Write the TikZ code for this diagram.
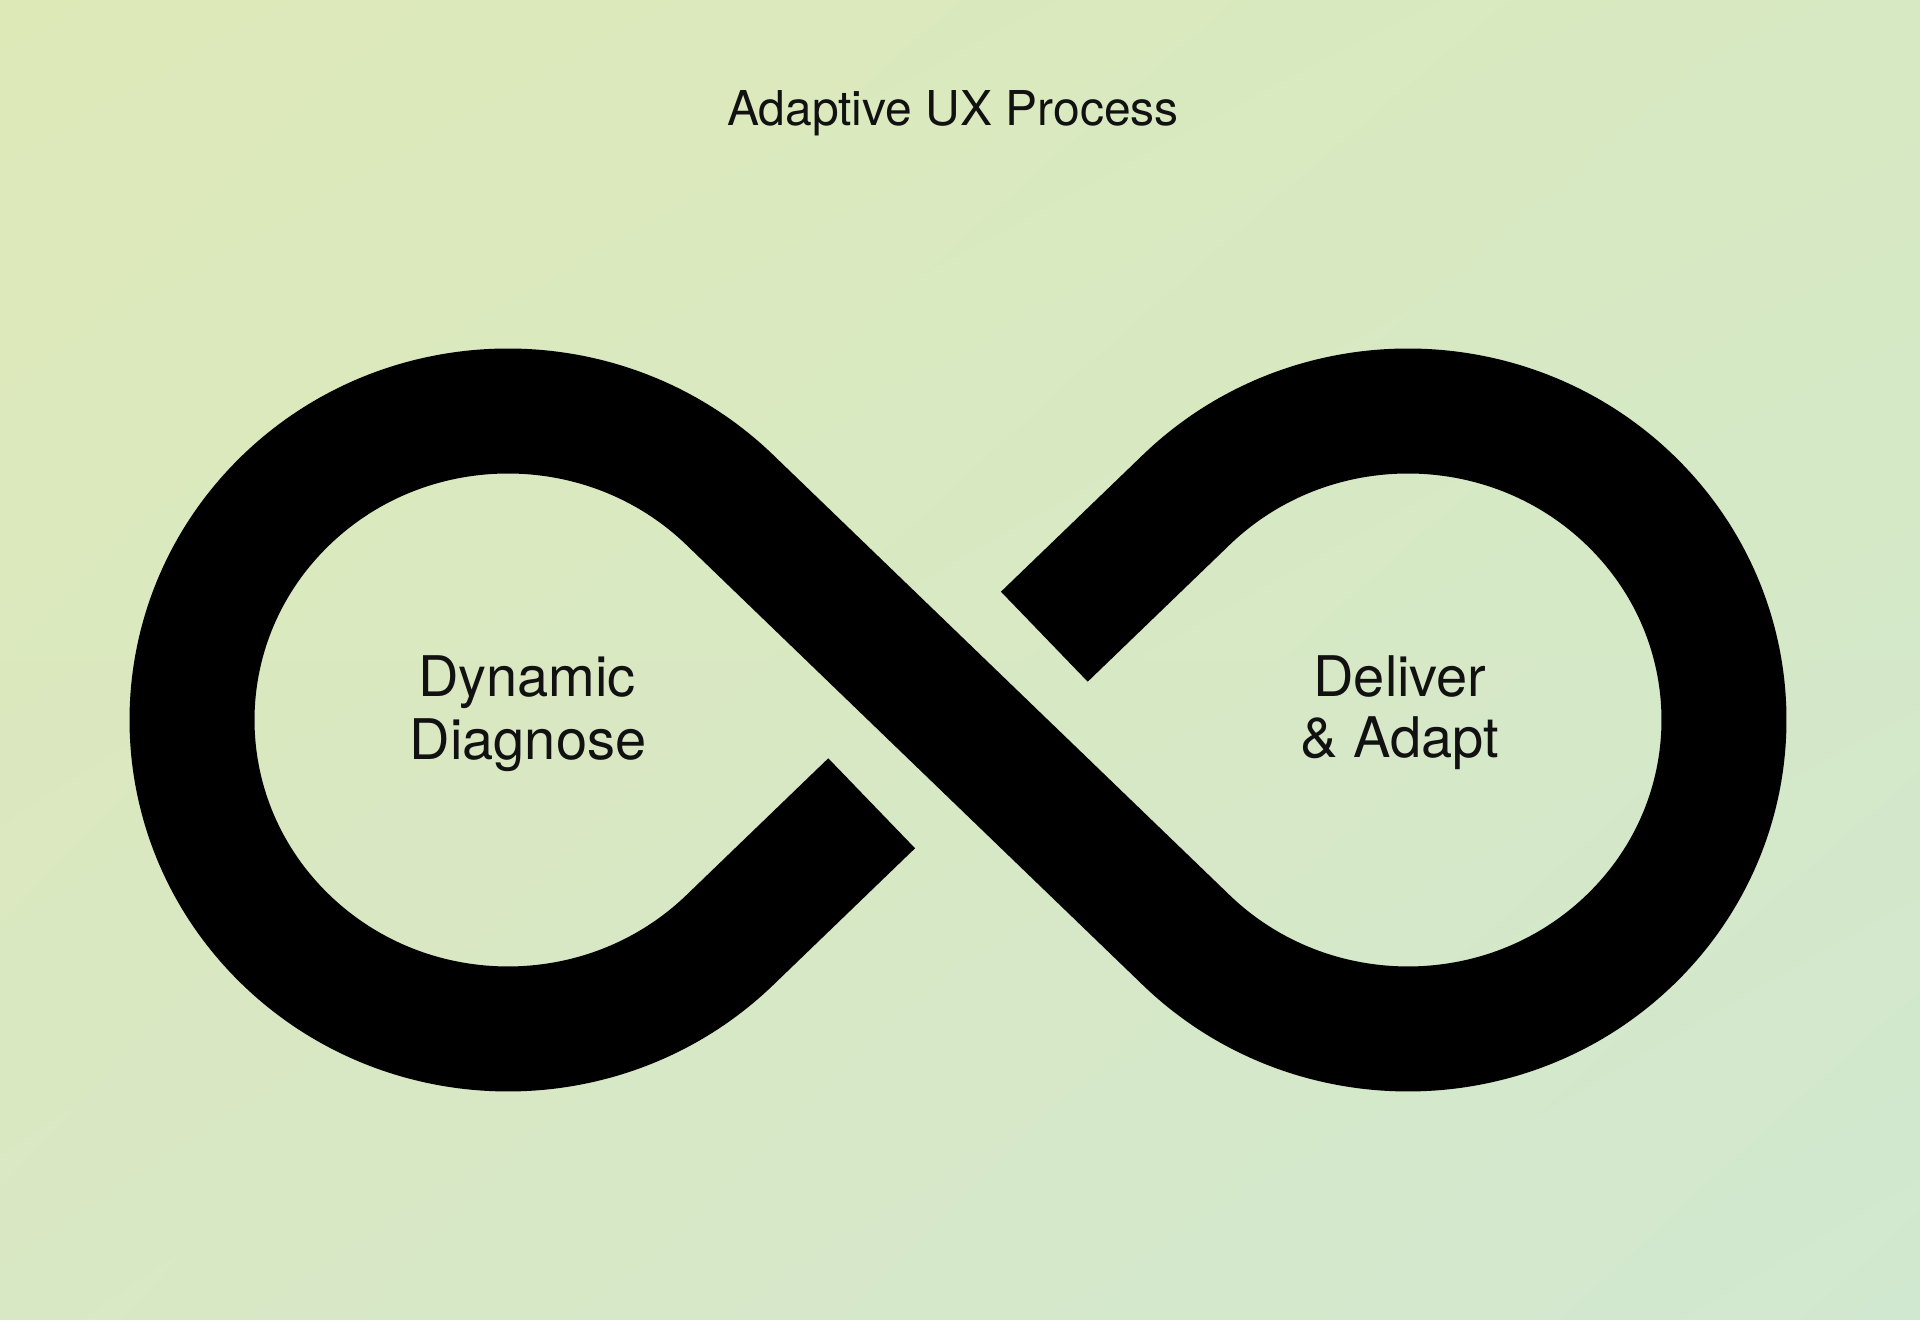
\documentclass[tikz,border=0pt]{standalone}
\usepackage{fontspec}
\usetikzlibrary{shadings}
\setmainfont{TeX Gyre Heros}
\definecolor{bgTL}{HTML}{DEE9B8}
\definecolor{bgTR}{HTML}{D7E9C2}
\definecolor{bgBL}{HTML}{D9E8C4}
\definecolor{bgBR}{HTML}{D1E8D0}
\definecolor{ink}{HTML}{111111}
\begin{document}
\begin{tikzpicture}[x=1pt,y=1pt,
  band/.style={draw=black, line width=125pt, line cap=butt, line join=round},
  ttl/.style={font=\fontsize{48}{58}\selectfont, text=ink, anchor=base, inner sep=0pt},
  lbl/.style={font=\fontsize{56}{63}\selectfont, text=ink, anchor=base, inner sep=0pt}]
\shade[upper left=bgTL, upper right=bgTR, lower left=bgBL, lower right=bgBR] (0,0) rectangle (1920,1320);
\useasboundingbox (0,0) rectangle (1920,1320);

\begin{scope}[shift={(958,600)}, xscale=1.0227]
  \coordinate (CL) at (-440,0);
  \coordinate (CR) at (440,0);
  \coordinate (G1) at (84.4,83.3);
  \coordinate (TRup) at (223.0,220.0);
  \coordinate (TLup) at (-223.0,220.0);
  \coordinate (G2) at (-84.4,-83.3);
  \draw[band] (G1) -- (TRup) arc[start angle=134.6, end angle=-134.6, radius=309]
    -- (TLup) arc[start angle=45.4, end angle=314.6, radius=309] -- (G2);
\end{scope}

\node[ttl] (title) at (953,1194) {Adaptive UX Process};
\node[lbl] (dyn) at (527,623) {Dynamic};
\node[lbl] (diag) at (528,560) {Diagnose};
\node[lbl] (deliv) at (1400,623) {Deliver};
\node[lbl] (adapt) at (1400,562) {\& Adapt};
\end{tikzpicture}
\end{document}
